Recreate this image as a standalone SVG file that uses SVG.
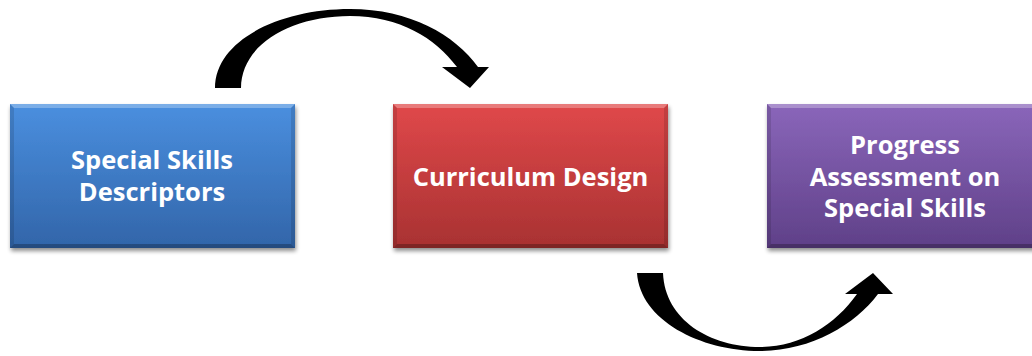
<svg xmlns="http://www.w3.org/2000/svg" width="1032" height="356" viewBox="0 0 1032 356">
<defs>
<linearGradient id="gBlue" x1="0" y1="0" x2="0" y2="1"><stop offset="0" stop-color="#4a8fdf"/><stop offset="1" stop-color="#3265a9"/></linearGradient>
<linearGradient id="gRed" x1="0" y1="0" x2="0" y2="1"><stop offset="0" stop-color="#e0484a"/><stop offset="1" stop-color="#a83232"/></linearGradient>
<linearGradient id="gPurple" x1="0" y1="0" x2="0" y2="1"><stop offset="0" stop-color="#8a66ba"/><stop offset="1" stop-color="#5f4088"/></linearGradient>
<filter id="sh" x="-10%" y="-10%" width="120%" height="130%"><feGaussianBlur in="SourceAlpha" stdDeviation="2"/><feOffset dx="1" dy="3"/><feComponentTransfer><feFuncA type="linear" slope="0.45"/></feComponentTransfer><feMerge><feMergeNode/><feMergeNode in="SourceGraphic"/></feMerge></filter>
</defs>
<style>
.lbl{font-family:"Open Sans","Liberation Sans",sans-serif;font-weight:bold;font-size:25.5px;fill:#ffffff;text-anchor:middle}
.bevT{fill:#ffffff;opacity:0.28}
.bevS{fill:#000000;opacity:0.12}
.bevB{fill:#000000;opacity:0.25}
.arrow{fill:#000000}
</style>
<rect width="1032" height="356" fill="#ffffff"/>
<g id="connectors">
<path class="arrow" d="M215,88 C215,40 280,9 350,9 C410,9 455,35 478,67 L489,67 L470,88 L442,67 L457,67 C435,38 400,16 350,16 C290,16 241,45 241,88 Z"/>
<path class="arrow" d="M637,273 C640,320 700,351 760,351 C810,351 855,325 878,294 L893,294 L873,273 L845,294 L857,294 C835,325 800,347 760,347 C710,347 665,320 663,273 Z"/>
</g>
<g id="node-descriptors">
<rect x="10" y="104" width="285" height="144" fill="url(#gBlue)" filter="url(#sh)"/>
<polygon class="bevT" points="10,104 295,104 291,108 14,108"/>
<polygon class="bevS" points="10,104 14,108 14,244 10,248"/>
<polygon class="bevS" points="295,104 291,108 291,244 295,248"/>
<polygon class="bevB" points="10,248 14,244 291,244 295,248"/>
<text class="lbl" x="152" y="169">Special Skills</text>
<text class="lbl" x="152" y="201">Descriptors</text>
</g>
<g id="node-curriculum">
<rect x="393" y="104" width="275" height="144" fill="url(#gRed)" filter="url(#sh)"/>
<polygon class="bevT" points="393,104 668,104 664,108 397,108"/>
<polygon class="bevS" points="393,104 397,108 397,244 393,248"/>
<polygon class="bevS" points="668,104 664,108 664,244 668,248"/>
<polygon class="bevB" points="393,248 397,244 664,244 668,248"/>
<text class="lbl" x="530.5" y="186">Curriculum Design</text>
</g>
<g id="node-assessment">
<rect x="767" y="104" width="276" height="144" fill="url(#gPurple)" filter="url(#sh)"/>
<polygon class="bevT" points="767,104 1043,104 1039,108 771,108"/>
<polygon class="bevS" points="767,104 771,108 771,244 767,248"/>
<polygon class="bevB" points="767,248 771,244 1039,244 1043,248"/>
<text class="lbl" x="905" y="154">Progress</text>
<text class="lbl" x="905" y="186">Assessment on</text>
<text class="lbl" x="905" y="217">Special Skills</text>
</g>
</svg>
